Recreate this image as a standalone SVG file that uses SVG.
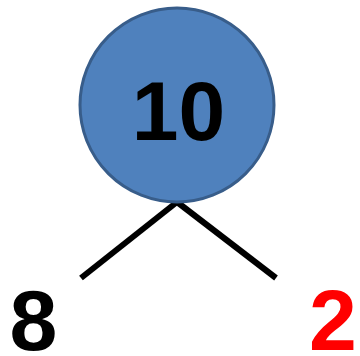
<svg xmlns="http://www.w3.org/2000/svg" width="360" height="356" viewBox="0 0 360 356">
<style>
.num{font-family:"Liberation Sans",Arial,sans-serif;font-weight:bold;text-anchor:middle}
.edge{stroke:#000;stroke-width:6;fill:none}
</style>
<rect width="360" height="356" fill="#fff"/>
<g id="connectors">
<line class="edge" x1="177" y1="202" x2="81" y2="278"/>
<line class="edge" x1="177" y1="202" x2="276" y2="278"/>
</g>
<g id="node-10">
<circle cx="177" cy="105" r="97" fill="#4f81bd" stroke="#385d8a" stroke-width="3"/>
<text class="num" x="178.5" y="140" font-size="84" fill="#000">10</text>
</g>
<g id="node-8">
<text class="num" x="33.5" y="350" font-size="86" fill="#000">8</text>
</g>
<g id="node-2">
<text class="num" x="333" y="350" font-size="86" fill="#ff0000">2</text>
</g>
</svg>
